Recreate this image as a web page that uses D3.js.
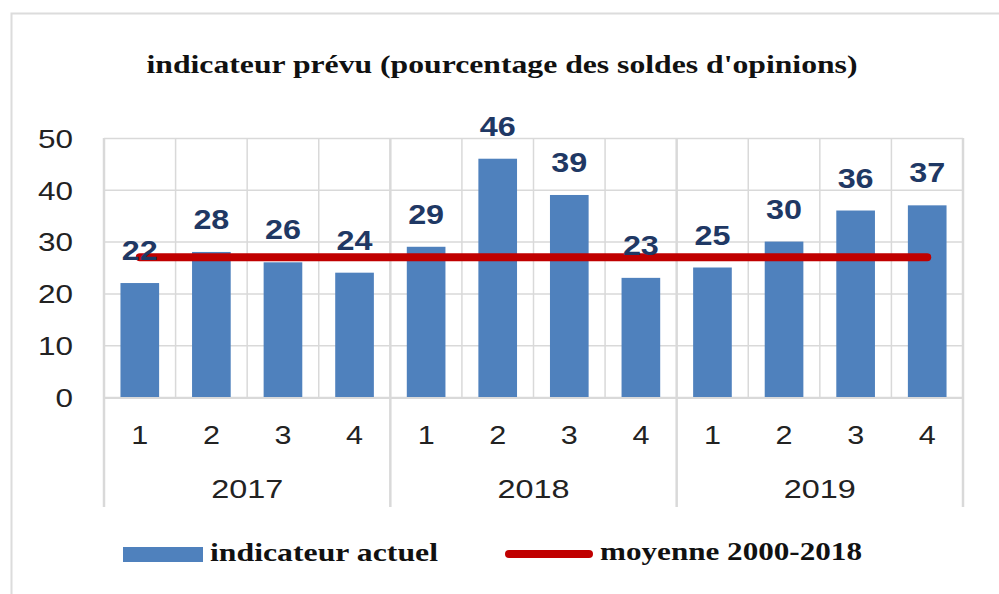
<!DOCTYPE html>
<html>
<head>
<meta charset="utf-8">
<script src="https://cdnjs.cloudflare.com/ajax/libs/d3/7.8.5/d3.min.js"></script>
<style>
  body { margin: 0; background: #fff; }
  .sans { font-family: "Liberation Sans", Arial, sans-serif; }
  .serif { font-family: "Liberation Serif", "Times New Roman", serif; font-weight: bold; }
</style>
</head>
<body>
<div id="chart"></div>
<script>
// Data
var years = ["2017", "2018", "2019"];
var quarters = ["1", "2", "3", "4"];
var indicateurActuel = [22, 28, 26, 24, 29, 46, 39, 23, 25, 30, 36, 37];
var moyenne = 27;
var yTicks = [0, 10, 20, 30, 40, 50];

var titleText = "indicateur prévu (pourcentage des soldes d'opinions)";
var legendBar = "indicateur actuel";
var legendLine = "moyenne 2000-2018";

// svg size
var svgWidth = 999;
var svgHeight = 594;

var margin = { top: 138, right: 36, bottom: 197, left: 104 };
var width = svgWidth - margin.left - margin.right;
var height = svgHeight - margin.top - margin.bottom;

var gridColor = "#d9d9d9";
var barColor = "#4f81bd";
var lineColor = "#c00000";
var labelColor = "#1f3864";

// build categories (year + quarter)
var categories = [];
years.forEach(function(y) {
    quarters.forEach(function(q) {
        categories.push({ key: y + "-" + q, year: y, quarter: q });
    });
});
categories.forEach(function(c, i) { c.value = indicateurActuel[i]; });

var svg = d3.select("#chart")
    .append("svg")
    .attr("width", svgWidth)
    .attr("height", svgHeight);

// outer frame (top + left edge visible)
svg.append("path")
    .attr("d", "M11.5,594 V13.5 H999")
    .attr("fill", "none")
    .attr("stroke", "#dcdcdc")
    .attr("stroke-width", 2);

// title
svg.append("text")
    .attr("class", "serif")
    .attr("x", 502)
    .attr("y", 73)
    .attr("text-anchor", "middle")
    .attr("font-size", 25)
    .attr("textLength", 711)
    .attr("lengthAdjust", "spacingAndGlyphs")
    .attr("fill", "#111")
    .text(titleText);

var chartGroup = svg.append("g")
    .attr("transform", `translate(${margin.left}, ${margin.top})`);

// scales
var xScale = d3.scaleBand()
    .domain(categories.map(d => d.key))
    .range([0, width]);

var yScale = d3.scaleLinear()
    .domain([0, 50])
    .range([height, 0]);

var barWidth = xScale.bandwidth() * 0.54;

// y axis with gridlines
var leftAxis = d3.axisLeft(yScale)
    .tickValues(yTicks)
    .tickSize(-width)
    .tickPadding(31);

var yAxisGroup = chartGroup.append("g").call(leftAxis);
yAxisGroup.select(".domain").remove();
yAxisGroup.selectAll(".tick line")
    .attr("stroke", gridColor)
    .attr("stroke-width", 1.5);
yAxisGroup.selectAll(".tick text")
    .attr("class", "sans")
    .attr("font-size", 26)
    .attr("fill", "#222")
    .attr("dy", "0.36em")
    .attr("textLength", d => String(d).length * 17.5)
    .attr("lengthAdjust", "spacingAndGlyphs");

// vertical gridlines between categories
var boundaries = d3.range(categories.length + 1).map(i => i * xScale.step());
chartGroup.selectAll(".vgrid")
    .data(boundaries)
    .enter()
    .append("line")
    .attr("class", "vgrid")
    .attr("x1", d => d)
    .attr("x2", d => d)
    .attr("y1", 0)
    .attr("y2", (d, i) => i % quarters.length === 0 ? height + 110 : height)
    .attr("stroke", gridColor)
    .attr("stroke-width", (d, i) => i % quarters.length === 0 ? 2.5 : 1.5);

// bars
chartGroup.selectAll(".bar")
    .data(categories)
    .enter()
    .append("rect")
    .attr("class", "bar")
    .attr("x", d => xScale(d.key) + (xScale.bandwidth() - barWidth) / 2)
    .attr("y", d => yScale(d.value))
    .attr("width", barWidth)
    .attr("height", d => height - yScale(d.value))
    .attr("fill", barColor);

// base axis line
chartGroup.append("line")
    .attr("x1", 0)
    .attr("x2", width)
    .attr("y1", height + 1)
    .attr("y2", height + 1)
    .attr("stroke", gridColor)
    .attr("stroke-width", 2);

// moyenne line
var first = categories[0].key;
var last = categories[categories.length - 1].key;
chartGroup.append("line")
    .attr("x1", xScale(first) + xScale.bandwidth() / 2)
    .attr("x2", xScale(last) + xScale.bandwidth() / 2)
    .attr("y1", yScale(moyenne))
    .attr("y2", yScale(moyenne))
    .attr("stroke", lineColor)
    .attr("stroke-width", 8)
    .attr("stroke-linecap", "round");

// data labels
chartGroup.selectAll(".vlabel")
    .data(categories)
    .enter()
    .append("text")
    .attr("class", "sans vlabel")
    .attr("x", d => xScale(d.key) + xScale.bandwidth() / 2)
    .attr("y", d => yScale(d.value) - 23)
    .attr("text-anchor", "middle")
    .attr("font-size", 27)
    .attr("font-weight", "bold")
    .attr("fill", labelColor)
    .attr("textLength", 36)
    .attr("lengthAdjust", "spacingAndGlyphs")
    .text(d => d.value);

// quarter labels
chartGroup.selectAll(".qlabel")
    .data(categories)
    .enter()
    .append("text")
    .attr("class", "sans qlabel")
    .attr("x", d => xScale(d.key) + xScale.bandwidth() / 2)
    .attr("y", height + 47)
    .attr("text-anchor", "middle")
    .attr("font-size", 26)
    .attr("fill", "#222")
    .attr("textLength", 17)
    .attr("lengthAdjust", "spacingAndGlyphs")
    .text(d => d.quarter);

// year labels
chartGroup.selectAll(".ylabel")
    .data(years)
    .enter()
    .append("text")
    .attr("class", "sans ylabel")
    .attr("x", (d, i) => (i + 0.5) * quarters.length * xScale.step())
    .attr("y", height + 101)
    .attr("text-anchor", "middle")
    .attr("font-size", 26)
    .attr("fill", "#222")
    .attr("textLength", 72)
    .attr("lengthAdjust", "spacingAndGlyphs")
    .text(d => d);

// legend
var legend = svg.append("g");
legend.append("rect")
    .attr("x", 123)
    .attr("y", 547)
    .attr("width", 80)
    .attr("height", 15)
    .attr("fill", barColor);
legend.append("text")
    .attr("class", "serif")
    .attr("x", 210)
    .attr("y", 561)
    .attr("font-size", 26)
    .attr("textLength", 228)
    .attr("lengthAdjust", "spacingAndGlyphs")
    .attr("fill", "#111")
    .text(legendBar);
legend.append("line")
    .attr("x1", 509)
    .attr("x2", 589)
    .attr("y1", 554)
    .attr("y2", 554)
    .attr("stroke", lineColor)
    .attr("stroke-width", 8)
    .attr("stroke-linecap", "round");
legend.append("text")
    .attr("class", "serif")
    .attr("x", 600)
    .attr("y", 560)
    .attr("font-size", 26)
    .attr("textLength", 262)
    .attr("lengthAdjust", "spacingAndGlyphs")
    .attr("fill", "#111")
    .text(legendLine);
</script>
</body>
</html>
